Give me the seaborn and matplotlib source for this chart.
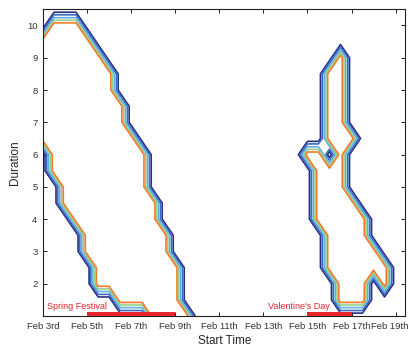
import numpy as np
import matplotlib
matplotlib.use("Agg")
import matplotlib.pyplot as plt
import matplotlib.transforms as mtransforms
import seaborn as sns

# grid rows (duration) from bottom to top
durations = [1.0, 1.5, 2.0, 2.5, 3.0, 3.5, 4.0, 4.5, 5.0, 5.5,
             6.0, 6.5, 7.0, 7.5, 8.0, 8.5, 9.0, 9.5, 10.0, 10.5]

# start-day spans where trips are dense, one entry per duration row
spring_spans = [
    [(8.0, 9.5)], [(6.5, 9.0)], [(5.5, 9.0)], [(5.5, 9.0)], [(5.0, 8.5)],
    [(5.0, 8.5)], [(4.5, 8.0)], [(4.0, 8.0)], [(4.0, 7.5)], [(3.5, 7.5)],
    [(3.5, 7.5)], [(3.0, 7.0)], [(3.0, 6.5)], [(3.0, 6.5)], [(3.0, 6.0)],
    [(3.0, 6.0)], [(3.0, 5.5)], [(3.0, 5.0)], [(3.5, 4.5)], [],
]
valentine_spans = [
    [], [(16.5, 17.5)], [(16.5, 17.5), (18.5, 18.5)], [(16.0, 18.5)], [(16.0, 18.0)],
    [(16.0, 17.5)], [(15.5, 17.5)], [(15.5, 17.0)], [(15.5, 16.5)], [(15.5, 16.5)],
    [(15.0, 15.5), (16.5, 16.5)], [(16.0, 17.0)], [(16.0, 16.5)], [(16.0, 16.5)], [(16.0, 16.5)],
    [(16.0, 16.5)], [(16.5, 16.5)], [], [], [],
]

tick_days = [3, 5, 7, 9, 11, 13, 15, 17, 19]
tick_labels = ["Feb 3rd", "Feb 5th", "Feb 7th", "Feb 9th", "Feb 11th",
               "Feb 13th", "Feb 15th", "Feb 17th", "Feb 19th"]

events = ["Spring Festival", "Valentine's Day"]
event_start = [5.0, 15.0]
event_end = [9.0, 17.0]

levels = [0.18, 0.34, 0.52, 0.68, 0.84]
line_colors = ["#2b2f86", "#3a6cc2", "#62b0e2", "#93d18b", "#f47a2b"]
red = "#e8252a"


def build_density():
    days = np.arange(3.0, 19.51, 0.5)
    density = np.zeros((len(durations), len(days)))
    for spans_list in (spring_spans, valentine_spans):
        for i, spans in enumerate(spans_list):
            for lo, hi in spans:
                density[i, (days >= lo) & (days <= hi)] = 1.0
    return days, density


def plot_contours():
    sns.set_theme(style="ticks")
    plt.rcParams["font.family"] = ["Liberation Sans", "DejaVu Sans"]
    plt.rcParams["xtick.direction"] = "in"
    plt.rcParams["ytick.direction"] = "in"

    days, density = build_density()

    fig = plt.figure(figsize=(4.12, 3.5), dpi=100)
    ax = fig.add_axes([0.1044, 0.0971, 0.8798, 0.8763])
    ax.contour(days, durations, density, levels=levels,
               colors=line_colors, linewidths=1.2)

    for name, s, e in zip(events, event_start, event_end):
        ax.fill_between([s, e], 1.0, 1.12, color=red, lw=0, zorder=3)
        ax.text(s - 1.8, 1.3, name, color=red, fontsize=6.5,
                ha="left", va="center")

    ax.set_xlim(3, 19.45)
    ax.set_ylim(1, 10.5)
    ax.set_xticks(tick_days)
    ax.set_xticklabels(tick_labels)
    ax.set_yticks(range(2, 11))
    ax.tick_params(axis="both", labelsize=6.8, length=3, width=0.7,
                   top=True, right=True, pad=4, colors="#222222",
                   labelcolor="#333333")
    # last date label sits at the figure edge, nudge it inwards a little
    last = ax.get_xticklabels()[-1]
    last.set_transform(last.get_transform() +
                       mtransforms.ScaledTranslation(-4 / 72, 0, fig.dpi_scale_trans))
    for sp in ax.spines.values():
        sp.set_visible(True)
        sp.set_linewidth(0.8)
        sp.set_color("#222222")
    ax.set_xlabel("Start Time", fontsize=8.5, labelpad=3, color="#262626")
    ax.set_ylabel("Duration", fontsize=8.5, labelpad=4, color="#262626")
    ax.grid(False)

    fig.savefig("out.png", dpi=100, facecolor="white")
    plt.close(fig)


if __name__ == "__main__":
    plot_contours()
